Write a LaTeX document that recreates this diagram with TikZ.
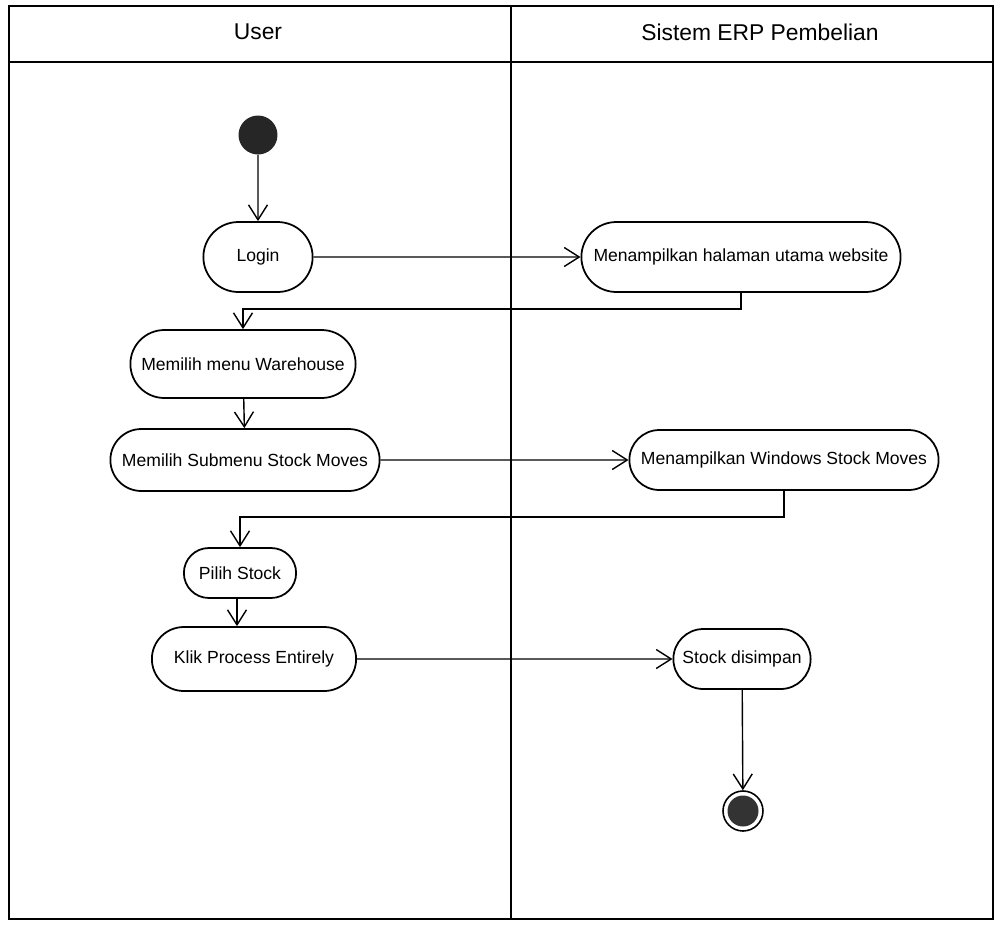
\documentclass[tikz,border=0pt]{standalone}
\usepackage{fontspec}
\setmainfont{Liberation Sans}
\usetikzlibrary{arrows.meta,shapes.misc}

\tikzset{
  act/.style={draw, rounded rectangle, line width=1pt, font=\fontsize{10}{12}\selectfont},
  flow/.style={line width=0.8pt, -{Straight Barb[length=3mm,width=3.8mm]}},
  lane/.style={line width=1.2pt}
}

\begin{document}
\begin{tikzpicture}[x=0.02cm,y=-0.02cm]
    \useasboundingbox (0,0) rectangle (995,924);
    % swimlanes
    \draw[lane] (9,6) rectangle (993,919);
    \draw[lane] (9,62)--(993,62);
    \draw[lane] (511,6)--(511,919);
    \node[font=\fontsize{13}{15}\selectfont] (user) at (258,32) {User};
    \node[font=\fontsize{13}{15}\selectfont] (sistem) at (760,32) {Sistem ERP Pembelian};

    % activities
    \node[circle, fill=black!85, minimum size=0.78cm, inner sep=0] (start) at (258,135) {};
    \node[act, minimum width=2.42cm, minimum height=1.4cm] (login) at (258,257) {Login};
    \node[act, minimum width=6.62cm, minimum height=1.4cm] (halaman) at (741,257) {Menampilkan halaman utama website};
    \node[act, minimum width=4.74cm, minimum height=1.36cm] (warehouse) at (243,364) {Memilih menu Warehouse};
    \node[act, minimum width=5.62cm, minimum height=1.24cm] (submenu) at (245,460) {Memilih Submenu Stock Moves};
    \node[act, minimum width=6.42cm, minimum height=1.2cm] (windows) at (784,460) {Menampilkan Windows Stock Moves};
    \node[act, minimum width=2.48cm, minimum height=1.0cm] (pilih) at (240,573) {Pilih Stock};
    \node[act, minimum width=4.32cm, minimum height=1.28cm] (klik) at (254,659) {Klik Process Entirely};
    \node[act, minimum width=2.98cm, minimum height=1.2cm] (simpan) at (742,659) {Stock disimpan};
    \node[circle, draw, line width=0.9pt, minimum size=0.8cm, inner sep=0] (finish) at (743,811) {};
    \node[circle, fill=black!80, minimum size=0.62cm, inner sep=0] (finishdot) at (finish) {};

    % flows
    \draw[flow] (start)--(login);
    \draw[flow] (login)--(halaman);
    \draw[flow] (halaman.south)--++(0,16)-|(warehouse.north);
    \draw[flow] (warehouse)--(submenu);
    \draw[flow] (submenu)--(windows);
    \draw[flow] (windows.south)--++(0,26)-|(pilih.north);
    \draw[flow] (pilih.south-|237,0)--(klik.north-|237,0);
    \draw[flow] (klik)--(simpan);
    \draw[flow] (simpan)--(finish);
\end{tikzpicture}
\end{document}
